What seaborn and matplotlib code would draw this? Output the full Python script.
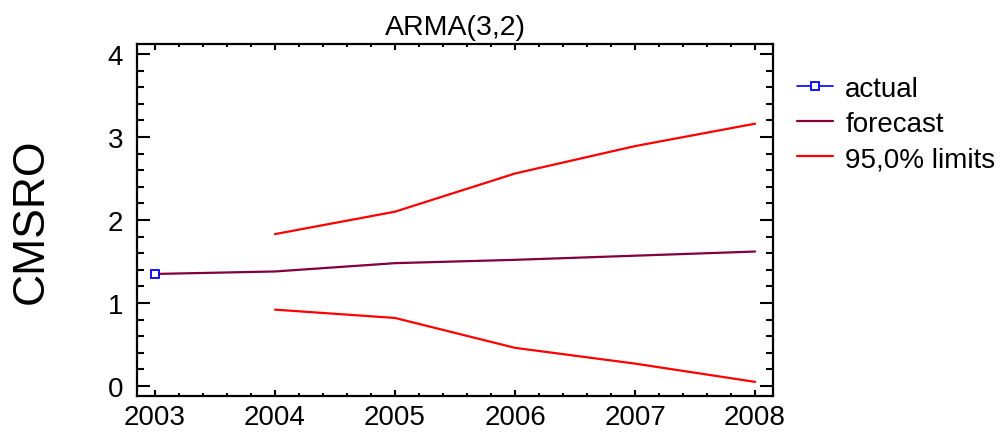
import numpy as np
import pandas as pd
import seaborn as sns
import matplotlib.pyplot as plt
from matplotlib.ticker import MultipleLocator

# values
years = [2003, 2004, 2005, 2006, 2007, 2008]
actual_years = [2003]
actual = [1.35]
forecast = [1.35, 1.38, 1.48, 1.52, 1.57, 1.62]
limit_years = [2004, 2005, 2006, 2007, 2008]
upper = [1.83, 2.10, 2.56, 2.89, 3.16]
lower = [0.92, 0.82, 0.46, 0.27, 0.05]

sns.set_style("ticks")
plt.rcParams['font.family'] = ['Liberation Sans', 'DejaVu Sans']
plt.rcParams['text.color'] = 'black'
plt.rcParams['axes.labelcolor'] = 'black'

fig = plt.figure(figsize=(10.02, 4.39), dpi=100)
ax = fig.add_axes([0.1367, 0.0957, 0.6348, 0.8018])

fc = pd.DataFrame({'year': years, 'value': forecast})
up = pd.DataFrame({'year': limit_years, 'value': upper})
lo = pd.DataFrame({'year': limit_years, 'value': lower})
ac = pd.DataFrame({'year': actual_years, 'value': actual})

sns.lineplot(data=fc, x='year', y='value', color='#800040', lw=1.6, ax=ax, label='forecast')
sns.lineplot(data=up, x='year', y='value', color='#ff0000', lw=1.6, ax=ax, label='95,0% limits')
sns.lineplot(data=lo, x='year', y='value', color='#ff0000', lw=1.6, ax=ax, label='_nolegend_')
sns.lineplot(data=ac, x='year', y='value', color='#0000ff', lw=1.2, marker='s', markersize=6,
             markerfacecolor='white', markeredgecolor='#0000ff', markeredgewidth=1.3,
             ax=ax, label='actual', zorder=5)

ax.set_xlim(2002.85, 2008.15)
ax.set_ylim(-0.12, 4.12)
ax.xaxis.set_major_locator(MultipleLocator(1))
ax.xaxis.set_minor_locator(MultipleLocator(0.2))
ax.yaxis.set_major_locator(MultipleLocator(1))
ax.yaxis.set_minor_locator(MultipleLocator(0.2))
ax.tick_params(axis='both', which='both', direction='in', top=True, right=True,
               width=1.5, colors='black', labelsize=20)
ax.tick_params(axis='x', which='major', length=4.5, pad=6)
ax.tick_params(axis='x', which='minor', length=2.5)
ax.tick_params(axis='y', which='major', length=9.5, pad=10)
ax.tick_params(axis='y', which='minor', length=5)
for s in ax.spines.values():
    s.set_linewidth(1.6)
    s.set_color('black')

ax.set_xlabel('')
ax.set_ylabel('CMSRO', fontsize=32, labelpad=40)
ax.set_title('ARMA(3,2)', fontsize=20.5, pad=7)

handles, labels = ax.get_legend_handles_labels()
order = [labels.index(l) for l in ['actual', 'forecast', '95,0% limits']]
ax.legend([handles[i] for i in order], [labels[i] for i in order],
          loc='upper left', bbox_to_anchor=(0.795, 0.825), bbox_transform=fig.transFigure,
          frameon=False, fontsize=20, handlelength=1.3, handletextpad=0.45,
          labelspacing=0.33, borderpad=0, borderaxespad=0)

fig.savefig('out.png', dpi=100)
